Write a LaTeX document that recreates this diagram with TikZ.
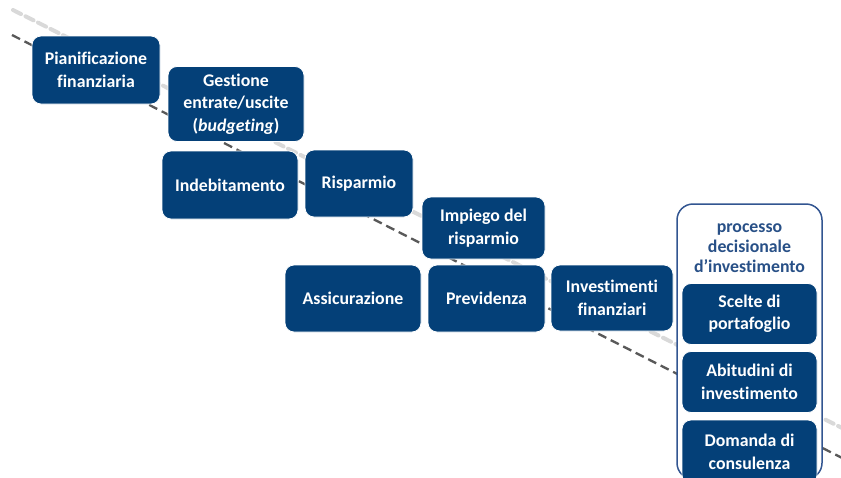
\documentclass[tikz,border=0pt]{standalone}
\usepackage{fontspec}
\setmainfont[Ligatures=NoCommon]{Carlito}
\definecolor{boxblue}{RGB}{4,64,120}
\definecolor{titleblue}{RGB}{40,80,135}
\definecolor{frameblue}{RGB}{50,85,145}
\begin{document}
\begin{tikzpicture}[x=1pt,y=-1pt,
  box/.style={rectangle, rounded corners=9pt, fill=boxblue, draw=white, line width=0.8pt,
    text=white, font=\fontsize{17.8}{22.5}\selectfont\bfseries, align=center, inner sep=2pt},
  shadowline/.style={gray!30, line width=4pt, dash pattern=on 9pt off 5pt, line cap=round},
  mainline/.style={gray!70!black, line width=2.3pt, dash pattern=on 9pt off 5pt}]
\useasboundingbox (0,0) rectangle (841,477);
\clip (0,0) rectangle (841,477);
\fill[white] (0,0) rectangle (841,477);
% lines
\coordinate (s1) at (13,10);
\coordinate (e1) at (850,432);
\coordinate (s2) at (12,35);
\coordinate (e2) at (850,462);
\draw[shadowline] (s1) -- (e1);
\draw[mainline] (s2) -- (e2);
% boxes
\node[box, minimum width=128pt, minimum height=68pt] (pian) at (96,70) {Pianificazione\\finanziaria};
\node[box, minimum width=136pt, minimum height=75pt] (gest) at (236,104) {Gestione\\entrate/uscite\\(\textit{budgeting})};
\node[box, minimum width=136pt, minimum height=68pt] (indeb) at (230,185) {Indebitamento};
\node[box, minimum width=108pt, minimum height=67pt] (risp) at (359,183.5) {Risparmio};
\node[box, minimum width=123pt, minimum height=62pt] (impi) at (483.5,228) {Impiego del\\risparmio};
\node[box, minimum width=136pt, minimum height=67pt] (assi) at (353,298.5) {Assicurazione};
\node[box, minimum width=117pt, minimum height=67pt] (prev) at (486.5,298.5) {Previdenza};
\node[box, minimum width=122pt, minimum height=66pt] (inve) at (612,298) {Investimenti\\finanziari};
% container
\draw[frameblue, fill=white, line width=1.5pt, rounded corners=16pt] (677,204) rectangle (822,479);
\node[text=titleblue, font=\fontsize{17.8}{20}\selectfont\bfseries, align=center] (tit) at (749.5,248) {processo\\decisionale\\d’investimento};
\node[box, minimum width=135pt, minimum height=61pt] (scel) at (749.5,314) {Scelte di\\portafoglio};
\node[box, minimum width=135pt, minimum height=61pt] (abit) at (749.5,382) {Abitudini di\\investimento};
\node[box, minimum width=135pt, minimum height=64pt] (doma) at (749.5,452) {Domanda di\\consulenza};
\end{tikzpicture}
\end{document}
